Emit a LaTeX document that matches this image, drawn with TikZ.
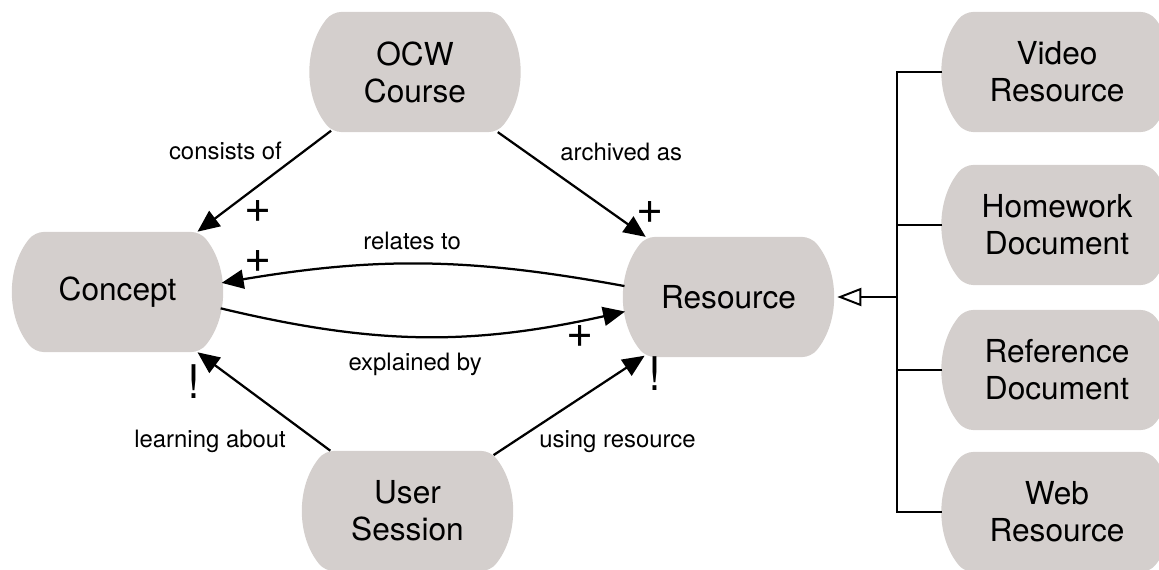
\documentclass[tikz,border=0pt]{standalone}
\usepackage{fontspec}
\setmainfont{TeX Gyre Heros}
\usetikzlibrary{shapes.misc, arrows.meta, positioning}
\definecolor{boxgray}{RGB}{212,207,205}

\tikzset{
  cls/.style={rounded rectangle, rounded rectangle arc length=80, rounded corners=6pt, fill=boxgray, minimum width=5.45cm, minimum height=3cm, align=center, font=\fontsize{22.5}{26.3}\selectfont},
  sub/.style={cls, minimum width=5.95cm},
  arr/.style={-{Triangle[length=15.6pt,width=13.5pt]}, line width=1.6pt, sharp corners},
  gen/.style={-{Triangle[open,length=17pt,width=12.8pt]}, line width=1.4pt, shorten >=3pt},
  lbl/.style={font=\fontsize{17}{20}\selectfont, inner sep=1pt},
  mult/.style={font=\fontsize{33}{36}\selectfont, inner sep=1pt},
}

\begin{document}
\begin{tikzpicture}[x=0.025cm, y=-0.025cm]
\useasboundingbox (0,0) rectangle (1159,570);

% classes
\node[cls] (ocw) at (415,72) {OCW\\Course};
\node[cls] (con) at (117.5,292) {Concept};
\node[cls] (res) at (728.5,297) {Resource};
\node[cls] (ses) at (407.5,511) {User\\Session};

% resource kinds
\node[sub] (vid) at (1057,72) {Video\\Resource};
\node[sub] (hw) at (1057,225) {Homework\\Document};
\node[sub] (ref) at (1057,370) {Reference\\Document};
\node[sub] (web) at (1057,512) {Web\\Resource};

% associations
\draw[arr] (ocw.215) -- node[lbl, pos=0.2, left=0.5cm] {consists of} node[mult, pos=0.8, right=0.45cm] {+} (con.37);
\draw[arr] (ocw.-36) -- node[lbl, pos=0.19, right=0.8cm] {archived as} node[mult, pos=0.77, right=0.55cm] {+} (res.144);
\draw[arr] (res.174) to[bend right=10] node[lbl, pos=0.53, above=0.3cm] {relates to} node[mult, pos=0.92, above=0.05cm] {+} (con.5);
\draw[arr] (con.-9) to[bend right=13] node[lbl, pos=0.48, below=0.35cm] {explained by} node[mult, pos=0.9, below=0.05cm] {+} (res.188);
\draw[arr] (ses.142) -- node[lbl, pos=0.09, left=0.75cm] {learning about} node[mult, pos=0.7, left=0.85cm] {!} (con.-37);
\draw[arr] (ses.33) -- node[lbl, pos=0.14, right=0.55cm] {using resource} node[mult, pos=0.82, right=0.72cm] {!} (res.215);

% generalisation
\coordinate (bus) at (897,297);
\draw[line width=1.4pt] (vid.west) -| (bus) |- (web.west);
\draw[line width=1.4pt] (hw.west) -- (hw.west -| bus);
\draw[line width=1.4pt] (ref.west) -- (ref.west -| bus);
\draw[gen] (bus) -- (res.east);
\end{tikzpicture}
\end{document}
